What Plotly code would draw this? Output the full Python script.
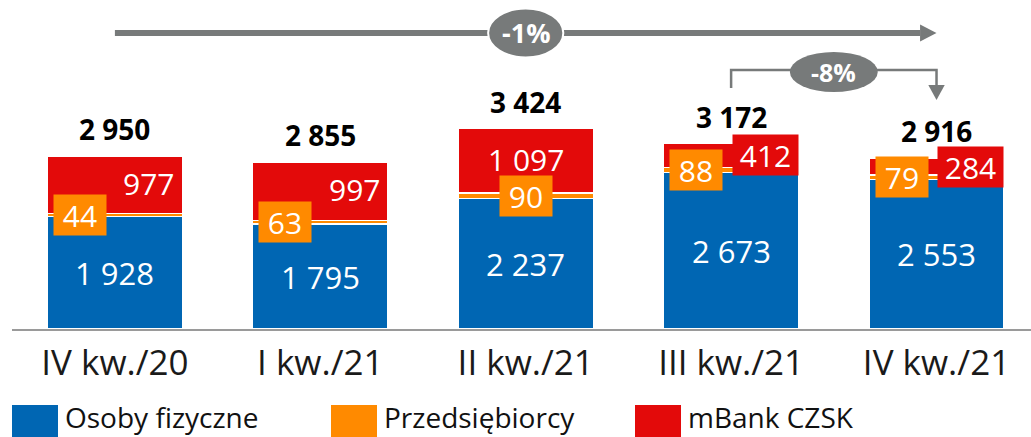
import plotly.graph_objects as go

categories = ["IV kw./20", "I kw./21", "II kw./21", "III kw./21", "IV kw./21"]
osoby = [1928, 1795, 2237, 2673, 2553]
przeds = [44, 63, 90, 88, 79]
czsk = [977, 997, 1097, 412, 284]
totals = [2950, 2855, 3424, 3172, 2916]
series_names = ["Osoby fizyczne", "Przedsiębiorcy", "mBank CZSK"]
change_all = "-1%"
change_last = "-8%"

BLUE = "#0066B3"
ORANGE = "#FF8A00"
RED = "#E30A0A"
GRAY = "#777A7A"
FONT = "Open Sans"

def fmt(v):
    return f"{v:,}".replace(",", " ")

PLOT_H = 329  # pixel height of plot area
Y_MAX = 5626

def py(p):
    return (PLOT_H - p) / PLOT_H

x = list(range(len(categories)))
fig = go.Figure()
for vals, name, col in zip([osoby, przeds, czsk], series_names, [BLUE, ORANGE, RED]):
    fig.add_trace(go.Bar(x=x, y=vals, name=name, marker=dict(color=col, line=dict(color="white", width=1.2)),
                         width=0.657, showlegend=False))

ann = []
orange_dx = [-35, -35, 0, -35, -35]
red_dx = [34, 34, 0, 34, 34]
for i in x:
    # blue value
    ann.append(dict(x=i, y=osoby[i] / 2, text=fmt(osoby[i]), showarrow=False, yanchor="middle",
                    font=dict(family=FONT, size=31, color="white")))
    # orange value box
    t = fmt(przeds[i])
    ann.append(dict(x=i, y=osoby[i] + przeds[i] / 2, text=t, showarrow=False, xshift=orange_dx[i],
                    yanchor="middle", bgcolor=ORANGE, width=17 * len(t) + 16, height=38,
                    font=dict(family=FONT, size=30, color="white")))
    # red value (boxed when the segment is too thin)
    t = fmt(czsk[i])
    seg_px = czsk[i] * PLOT_H / Y_MAX
    boxed = seg_px < 40
    ann.append(dict(x=i, y=osoby[i] + przeds[i] + czsk[i] / 2, text=t, showarrow=False, xshift=red_dx[i],
                    yanchor="middle", yshift=0 if boxed else 2,
                    bgcolor=RED if boxed else None, width=17 * len(t) + 12 if boxed else None,
                    height=38 if boxed else 30,
                    font=dict(family=FONT, size=30, color="white")))
    # total
    ann.append(dict(x=i, y=totals[i], text=f"<b>{fmt(totals[i])}</b>", showarrow=False, yshift=27,
                    yanchor="middle", font=dict(family=FONT, size=28, color="black")))

shapes = []
# -1% arrow across the whole period
shapes.append(dict(type="line", xref="x", yref="paper", x0=0, x1=4 - 0.08, y0=py(33), y1=py(33),
                   line=dict(color=GRAY, width=6)))
shapes.append(dict(type="path", xref="x", yref="paper",
                   path=f"M {4-0.08},{py(24.5)} L {4.0},{py(33)} L {4-0.08},{py(41.5)} Z",
                   fillcolor=GRAY, line=dict(width=0)))
shapes.append(dict(type="circle", xref="x", yref="paper", x0=2 - 0.183, x1=2 + 0.183, y0=py(57.5), y1=py(8.5),
                   fillcolor=GRAY, line=dict(color="white", width=2)))
ann.append(dict(x=2, y=py(33), yref="paper", xanchor="center", yanchor="middle", text=f"<b>{change_all}</b>",
                showarrow=False, font=dict(family=FONT, size=27, color="white")))
# -8% bracket last quarter
shapes.append(dict(type="path", xref="x", yref="paper",
                   path=f"M 3,{py(88)} L 3,{py(70)} L 4,{py(70)} L 4,{py(86)}",
                   line=dict(color=GRAY, width=2.5)))
shapes.append(dict(type="path", xref="x", yref="paper",
                   path=f"M {4-0.04},{py(85)} L 4,{py(100)} L {4+0.04},{py(85)} Z",
                   fillcolor=GRAY, line=dict(width=0)))
shapes.append(dict(type="circle", xref="x", yref="paper", x0=3.5 - 0.214, x1=3.5 + 0.214, y0=py(92), y1=py(52),
                   fillcolor=GRAY, line=dict(width=0)))
ann.append(dict(x=3.5, y=py(72), yref="paper", xanchor="center", yanchor="middle", text=f"<b>{change_last}</b>",
                showarrow=False, font=dict(family=FONT, size=25, color="white")))

# manual legend
W = 1019
def pxx(p):
    return (p - 12) / W
leg_x = [12, 331, 635]
for lx, name, col in zip(leg_x, series_names, [BLUE, ORANGE, RED]):
    shapes.append(dict(type="rect", xref="paper", yref="paper", x0=pxx(lx), x1=pxx(lx + 46),
                       y0=py(440), y1=py(405), fillcolor=col, line=dict(width=0)))
    ann.append(dict(xref="paper", yref="paper", x=pxx(lx + 51), y=py(417), xanchor="left", yanchor="middle",
                    text=name, showarrow=False, font=dict(family=FONT, size=28, color="#111111")))

fig.update_layout(
    width=1031, height=437,
    margin=dict(l=12, r=0, t=0, b=108),
    plot_bgcolor="white", paper_bgcolor="white",
    barmode="stack", bargap=0.343,
    annotations=ann, shapes=shapes,
    xaxis=dict(range=[-0.501, 4.46], tickmode="array", tickvals=x, ticktext=categories,
               showline=True, linecolor="#9a9a9a", linewidth=2, showgrid=False, zeroline=False,
               ticks="outside", ticklen=2, tickcolor="rgba(0,0,0,0)",
               tickfont=dict(family=FONT, size=35, color="#1a1a1a")),
    yaxis=dict(range=[0, Y_MAX], visible=False, showgrid=False, zeroline=False),
)
fig.write_html("out.html", config={"displayModeBar": False},
               post_script="document.body.style.margin='0';")
